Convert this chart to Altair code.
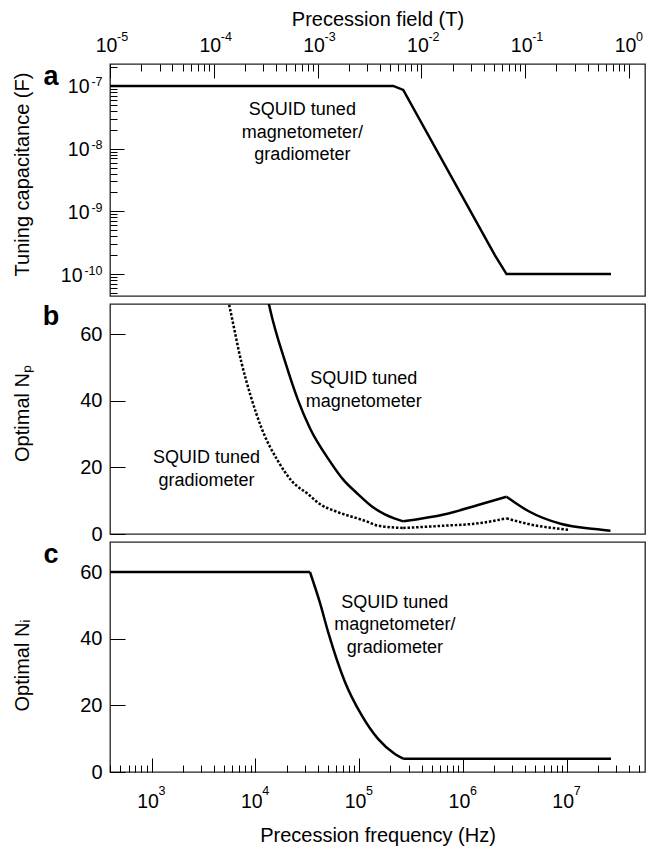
import math
import altair as alt
import pandas as pd

# ---------------- data ----------------
hz_per_tesla = 3.98e7                 # top axis: field = frequency / hz_per_tesla
field_range = [1e-5, 1.427]           # T, shown range of top axis
freq_range = [v * hz_per_tesla for v in field_range]   # Hz
cap_range = [4.47e-11, 2.24e-7]       # F
n_range = [0, 69]

# panel a: tuning capacitance
cap_freq = [398, 2.13e5, 2.66e5, 2.03e6, 2.63e6, 2.67e7]
cap_val = [1e-7, 1e-7, 8.65e-8, 2.0e-10, 1e-10, 1e-10]

# panel b: optimal Np (kinks = frequencies where the curves change branch)
np_kinks = [2.66e5, 2.63e6]
np_mag_freq = [1.33e4, 1.38e4, 1.95e4, 2.59e4, 3.36e4, 5.24e4, 7.03e4, 9.8e4, 1.31e5,
               1.77e5, 2.18e5, 2.66e5, 6.71e5, 1.40e6, 2.63e6, 4.26e6, 8.91e6, 1.87e7, 2.64e7]
np_mag_val = [70, 67.7, 51.4, 40, 31.7, 21.8, 16.3, 11.9, 8.4,
              5.9, 4.7, 3.8, 5.9, 8.7, 11.2, 6.9, 3.0, 1.5, 1.0]
np_grad_freq = [5.48e3, 5.69e3, 7.36e3, 9.0e3, 1.15e4, 1.66e4, 2.26e4, 3.24e4, 4.22e4,
                5.85e4, 1.14e5, 1.53e5, 2.66e5, 6.71e5, 1.40e6, 2.63e6, 4.26e6, 1.03e7]
np_grad_val = [70, 67.7, 51.4, 41.5, 31.7, 21.8, 15.8, 11.9, 8.9,
               6.9, 3.95, 2.5, 1.8, 2.5, 3.2, 4.7, 3.0, 1.3]

# panel c: optimal Ni
ni_kinks = [3.36e4, 2.66e5]
ni_freq = [398, 3.36e4, 4.19e4, 5.04e4, 7.29e4, 1.05e5, 1.53e5, 2.21e5, 2.66e5, 2.67e7]
ni_val = [60, 60, 50.8, 41.9, 27.1, 17.2, 9.85, 5.4, 4.0, 4.0]

# annotations (x in Hz, y in panel units = first line baseline)
ann_a = {"f": [2.84e4], "v": [3.4e-8], "label": ["SQUID tuned\nmagnetometer/\ngradiometer"]}
ann_b = {"f": [1.11e5, 3.39e3], "v": [45.0, 21.3],
         "label": ["SQUID tuned\nmagnetometer", "SQUID tuned\ngradiometer"]}
ann_c = {"f": [2.21e5], "v": [49.3], "label": ["SQUID tuned\nmagnetometer/\ngradiometer"]}

panel_letters = ["a", "b", "c"]
n_ticks = [0, 20, 40, 60]

x_title_top = "Precession field (T)"
x_title_bottom = "Precession frequency (Hz)"
y_titles = ["Tuning capacitance (F)", "Optimal N\u209a", "Optimal N\u1d62"]

# ---------------- styling ----------------
FONT = "Liberation Sans"
W = 535
HA, HB, HC = 232, 230, 230
LAB = 19.5      # tick label size
EXP = 12.5      # exponent size


def exp_expr(values):
    expr = "''"
    for v in values:
        e = round(math.log10(v))
        expr = f"round(log(datum.value)/LN10) == {e} ? '{e}' : ({expr})"
    return expr


def decade_ticks(lo, hi):
    return [10.0 ** k for k in range(math.ceil(math.log10(lo) - 1e-9),
                                     math.floor(math.log10(hi) + 1e-9) + 1)]


def minor_ticks(lo, hi):
    out = []
    for k in range(math.floor(math.log10(lo)) - 1, math.ceil(math.log10(hi)) + 1):
        for m in range(2, 10):
            v = m * 10.0 ** k
            if lo <= v <= hi:
                out.append(v)
    return out


def log_scale(dom):
    return alt.Scale(type="log", domain=dom, nice=False)


def lin_scale(dom):
    return alt.Scale(type="linear", domain=dom, nice=False, zero=False)


def axis_layer(channel, values, scale, other_scale, other_val, orient, size=0,
               labels=False, **kw):
    df = pd.DataFrame({"v": values, "o": [other_val] * len(values)})
    opts = dict(orient=orient, values=values, domain=False, grid=False, labels=labels)
    if size > 0:
        opts.update(ticks=True, tickSize=size, offset=-size, tickColor="black", tickWidth=1)
    else:
        opts.update(ticks=False, tickSize=0)
    if "title" not in kw:
        opts["title"] = None
    opts.update(kw)
    axis = alt.Axis(**opts)
    base = alt.Chart(df).mark_point(opacity=0)
    if channel == "x":
        return base.encode(x=alt.X("v:Q", scale=scale, axis=axis),
                           y=alt.Y("o:Q", scale=other_scale, axis=None))
    return base.encode(y=alt.Y("v:Q", scale=scale, axis=axis),
                       x=alt.X("o:Q", scale=other_scale, axis=None))


def segments(fx, fy, kinks):
    rows = []
    seg = 0
    for f, v in zip(fx, fy):
        rows.append({"f": f, "v": v, "seg": seg})
        if seg < len(kinks) and abs(f - kinks[seg]) / kinks[seg] < 1e-6:
            seg += 1
            rows.append({"f": f, "v": v, "seg": seg})
    return pd.DataFrame(rows)


def line_layer(fx, fy, xs, ys, kinks=None, dash=None):
    if kinks:
        df = segments(fx, fy, kinks)
        interp = "monotone"
    else:
        df = pd.DataFrame({"f": fx, "v": fy, "seg": 0})
        interp = "linear"
    kw = dict(color="black", strokeWidth=2.5, clip=True, interpolate=interp)
    if dash:
        kw["strokeDash"] = dash
    return alt.Chart(df).mark_line(**kw).encode(
        x=alt.X("f:Q", scale=xs, axis=None), y=alt.Y("v:Q", scale=ys, axis=None),
        detail="seg:N")


def text_layer(d, xs, ys):
    return alt.Chart(pd.DataFrame(d)).mark_text(
        fontSize=18, lineBreak="\n", lineHeight=22.5, align="center",
        baseline="alphabetic", color="black").encode(
        x=alt.X("f:Q", scale=xs, axis=None), y=alt.Y("v:Q", scale=ys, axis=None),
        text="label:N")


def letter_layer(letter, xs, ys, x0, ytop):
    df = pd.DataFrame({"t": [letter], "f": [x0], "v": [ytop]})
    return alt.Chart(df).mark_text(
        fontSize=27, fontWeight="bold", align="center", baseline="alphabetic",
        color="black", dx=-59, dy=21).encode(
        text="t:N", x=alt.X("f:Q", scale=xs, axis=None), y=alt.Y("v:Q", scale=ys, axis=None))


def pow_axis_layers(channel, values, scale, other_scale, other_val, orient, **title_kw):
    """'10' labels plus raised exponents, as two label axes."""
    common = dict(labels=True, labelBaseline="alphabetic")
    if orient in ("top", "bottom"):
        raise_px = 11 if orient == "top" else 12.5
        base_pad = 13 if orient == "top" else 35
        exp_pad = base_pad + raise_px if orient == "top" else base_pad - raise_px
        base = axis_layer(channel, values, scale, other_scale, other_val, orient,
                          labelExpr="'10'", labelFontSize=LAB, labelAlign="center",
                          labelOffset=-4, labelPadding=base_pad, **common, **title_kw)
        expo = axis_layer(channel, values, scale, other_scale, other_val, orient,
                          labelExpr=exp_expr(values), labelFontSize=EXP, labelAlign="left",
                          labelOffset=6.5, labelPadding=exp_pad, **common)
    else:
        base = axis_layer(channel, values, scale, other_scale, other_val, orient,
                          labelExpr="'10'", labelFontSize=LAB, labelAlign="right",
                          labelOffset=7,
                          labelPadding={"condition": {"test": "datum.value < 5e-10", "value": 28},
                                        "value": 21},
                          **common, **title_kw)
        expo = axis_layer(channel, values, scale, other_scale, other_val, orient,
                          labelExpr=exp_expr(values), labelFontSize=EXP, labelAlign="right",
                          labelOffset=0, labelPadding=8, **common)
    return [base, expo]


xs = log_scale(freq_range)
ts = log_scale(field_range)
cs = log_scale(cap_range)
ns = lin_scale(n_range)
f0 = freq_range[0]

ytitle_kw = dict(titleX=-82, titleBaseline="alphabetic", titleAngle=270, titleAlign="center")

# ---------------- panel a ----------------
cap_dec = decade_ticks(*cap_range)
t_dec = decade_ticks(*field_range)
cmid = 1e-8
pa = alt.layer(
    line_layer(cap_freq, cap_val, xs, cs),
    text_layer(ann_a, xs, cs),
    letter_layer(panel_letters[0], xs, cs, f0, cap_range[1]),
    *pow_axis_layers("x", t_dec, ts, cs, cmid, "top", title=x_title_top, titlePadding=6),
    axis_layer("x", t_dec, ts, cs, cmid, "top", size=14),
    axis_layer("x", minor_ticks(*field_range), ts, cs, cmid, "top", size=7),
    *pow_axis_layers("y", cap_dec, cs, xs, f0, "left", title=y_titles[0], titleY=110,
                     **ytitle_kw),
    axis_layer("y", cap_dec, cs, xs, f0, "left", size=14),
    axis_layer("y", minor_ticks(*cap_range), cs, xs, f0, "left", size=7),
).resolve_scale(x="independent").resolve_axis(x="independent", y="independent").properties(
    width=W, height=HA)

# ---------------- panel b ----------------
pb = alt.layer(
    line_layer(np_grad_freq, np_grad_val, xs, ns, kinks=np_kinks, dash=[2.5, 1.8]),
    line_layer(np_mag_freq, np_mag_val, xs, ns, kinks=np_kinks),
    text_layer(ann_b, xs, ns),
    letter_layer(panel_letters[1], xs, ns, f0, n_range[1]),
    axis_layer("y", n_ticks, ns, xs, f0, "left", labels=True, labelPadding=8,
               labelFontSize=20, title=y_titles[1], titleY=109, **ytitle_kw),
    axis_layer("y", n_ticks, ns, xs, f0, "left", size=15),
).resolve_axis(x="independent", y="independent").properties(width=W, height=HB)

# ---------------- panel c ----------------
f_dec = decade_ticks(*freq_range)
pc = alt.layer(
    line_layer(ni_freq, ni_val, xs, ns, kinks=ni_kinks),
    text_layer(ann_c, xs, ns),
    letter_layer(panel_letters[2], xs, ns, f0, n_range[1]),
    *pow_axis_layers("x", f_dec, xs, ns, 30, "bottom", title=x_title_bottom, titlePadding=15),
    axis_layer("x", f_dec, xs, ns, 30, "bottom", size=14),
    axis_layer("x", minor_ticks(*freq_range), xs, ns, 30, "bottom", size=7),
    axis_layer("y", n_ticks, ns, xs, f0, "left", labels=True, labelPadding=8,
               labelFontSize=20, title=y_titles[2], titleY=123, **ytitle_kw),
    axis_layer("y", n_ticks, ns, xs, f0, "left", size=15),
).resolve_axis(x="independent", y="independent").properties(width=W, height=HC)

chart = alt.vconcat(pa, pb, pc, spacing=8, bounds="flush").properties(
    padding={"left": 3, "top": 0, "right": 0, "bottom": 0}
).configure(font=FONT).configure_view(
    stroke="#222", strokeWidth=1.3
).configure_axis(
    labelFont=FONT, titleFont=FONT, labelFontSize=20, titleFontSize=20,
    labelColor="black", titleColor="black", titleFontWeight="normal"
)

chart.save("out.html", embed_options={"renderer": "svg", "actions": False})
